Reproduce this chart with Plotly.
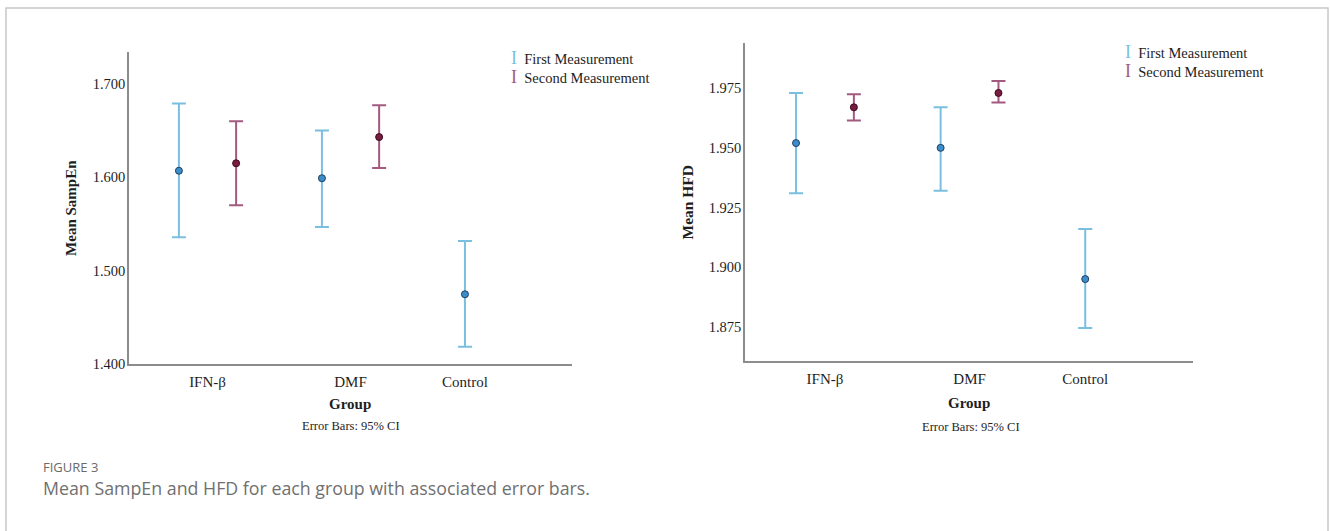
import plotly.graph_objects as go

# ---------------- data ----------------
groups = ["IFN-β", "DMF", "Control"]

# SampEn (left panel)
sampen_first_mean = [1.607, 1.599, 1.475]
sampen_first_low = [1.536, 1.547, 1.419]
sampen_first_high = [1.679, 1.650, 1.532]
sampen_second_mean = [1.615, 1.643, None]
sampen_second_low = [1.570, 1.610, None]
sampen_second_high = [1.660, 1.677, None]
sampen_ticks = [1.400, 1.500, 1.600, 1.700]

# HFD (right panel)
hfd_first_mean = [1.952, 1.950, 1.895]
hfd_first_low = [1.931, 1.932, 1.8745]
hfd_first_high = [1.973, 1.967, 1.916]
hfd_second_mean = [1.967, 1.973, None]
hfd_second_low = [1.9615, 1.969, None]
hfd_second_high = [1.9725, 1.978, None]
hfd_ticks = [1.875, 1.900, 1.925, 1.950, 1.975]

series_names = ["First Measurement", "Second Measurement"]

# ---------------- style ----------------
W, H = 1330, 531
group_pos = [1.0, 2.0, 2.8]
offset = 0.2
SERIF = "Liberation Serif, Times New Roman, serif"
SANS = "Open Sans, Noto Sans, sans-serif"
TXT = "#1e1e1e"
BLUE_BAR, BLUE_FILL, BLUE_EDGE = "#7bbfe0", "#3b8ecb", "#1f3f5e"
RED_BAR, RED_FILL, RED_EDGE = "#a35a80", "#7a1b40", "#3a0a1e"


def px(x):
    return x / W


def py(y):
    return 1 - y / H


def positions(second, sign):
    out = []
    for i, g in enumerate(group_pos):
        if second[i] is None:
            out.append(g)
        else:
            out.append(g + sign * offset)
    return out


def err(mean, low, high):
    up = [None if m is None else h - m for m, h in zip(mean, high)]
    dn = [None if m is None else m - l for m, l in zip(mean, low)]
    return up, dn


fig = go.Figure()

panels = [
    ("x", "y", sampen_first_mean, sampen_first_low, sampen_first_high,
     sampen_second_mean, sampen_second_low, sampen_second_high),
    ("x2", "y2", hfd_first_mean, hfd_first_low, hfd_first_high,
     hfd_second_mean, hfd_second_low, hfd_second_high),
]

for xa, ya, fm, fl, fh, sm, sl, sh in panels:
    up, dn = err(fm, fl, fh)
    fig.add_trace(go.Scatter(
        x=positions(sm, -1), y=fm, mode="markers", name=series_names[0],
        xaxis=xa, yaxis=ya, showlegend=False,
        marker=dict(size=7, color=BLUE_FILL, line=dict(color=BLUE_EDGE, width=1)),
        error_y=dict(type="data", symmetric=False, array=up, arrayminus=dn,
                     color=BLUE_BAR, thickness=2, width=7),
    ))
    up2, dn2 = err(sm, sl, sh)
    xs2 = [g + offset if m is not None else None for g, m in zip(group_pos, sm)]
    fig.add_trace(go.Scatter(
        x=xs2, y=sm, mode="markers", name=series_names[1],
        xaxis=xa, yaxis=ya, showlegend=False,
        marker=dict(size=7, color=RED_FILL, line=dict(color=RED_EDGE, width=1)),
        error_y=dict(type="data", symmetric=False, array=up2, arrayminus=dn2,
                     color=RED_BAR, thickness=2, width=7),
    ))

axis_common = dict(showgrid=False, zeroline=False, showline=True,
                   linecolor="#8c8c8c", linewidth=1.5, ticks="")
xfont = dict(family=SERIF, size=15, color=TXT)
yfont = dict(family=SERIF, size=14.5, color=TXT)

fig.update_layout(
    width=W, height=H,
    margin=dict(l=0, r=0, t=0, b=0),
    paper_bgcolor="white", plot_bgcolor="white",
    showlegend=False,
    xaxis=dict(domain=[px(129), px(571.5)], range=[0.451, 3.545],
               tickvals=group_pos, ticktext=groups, anchor="y",
               tickfont=xfont, ticklabelstandoff=3, **axis_common),
    yaxis=dict(domain=[py(370), py(53)], range=[1.400, 1.7337],
               tickvals=sampen_ticks, tickformat=".3f", anchor="x",
               tickfont=yfont, ticklabelstandoff=-1, **axis_common),
    xaxis2=dict(domain=[px(745), px(1193.4)], range=[0.447, 3.548],
                tickvals=group_pos, ticktext=groups, anchor="y2",
                tickfont=xfont, ticklabelstandoff=3, **axis_common),
    yaxis2=dict(domain=[py(366.7), py(44)], range=[1.8606, 1.9938],
                tickvals=hfd_ticks, tickformat=".3f", anchor="x2",
                tickfont=yfont, ticklabelstandoff=-1, **axis_common),
)

ann = []


def text(x, y, s, size, bold=False, color=TXT, xanchor="center", angle=0, family=SERIF):
    ann.append(dict(x=px(x), y=py(y), xref="paper", yref="paper", text=s,
                    showarrow=False, xanchor=xanchor, yanchor="middle",
                    textangle=angle, align="left",
                    font=dict(family=family, size=size, color=color,
                              weight="bold" if bold else "normal")))


# left panel texts
text(71.5, 211.6, "Mean SampEn", 15, bold=True, angle=-90)
text(350, 410, "Group", 15, bold=True)
text(351, 433, "Error Bars: 95% CI", 12.5)
# right panel texts
text(688, 205.6, "Mean HFD", 15.5, bold=True, angle=-90)
text(969, 408.7, "Group", 15, bold=True)
text(971, 434, "Error Bars: 95% CI", 12.5)

# legends (I-beam glyph + label), one text block per panel
legend_html = (
    f"<span style='color:{BLUE_BAR};font-size:18px'>I</span>&nbsp; {series_names[0]}<br>"
    f"<span style='color:{RED_BAR};font-size:18px'>I</span>&nbsp; {series_names[1]}"
)
for lx, ly in [(508.5, 68.5), (1122.5, 62.5)]:
    text(lx, ly, legend_html, 14.5, xanchor="left")

# figure caption
text(41, 474, "FIGURE 3", 13, color="#6a6a6a", xanchor="left", family=SANS)
text(41, 495, "Mean SampEn and HFD for each group with associated error bars.", 17.8,
     color="#707070", xanchor="left", family=SANS)

fig.update_layout(annotations=ann)

# outer frame
fig.add_shape(type="rect", xref="paper", yref="paper",
              x0=px(6), x1=px(1328), y0=py(560), y1=py(8),
              line=dict(color="#c8c8c8", width=1.5), fillcolor="rgba(0,0,0,0)")

fig.write_html("out.html")
